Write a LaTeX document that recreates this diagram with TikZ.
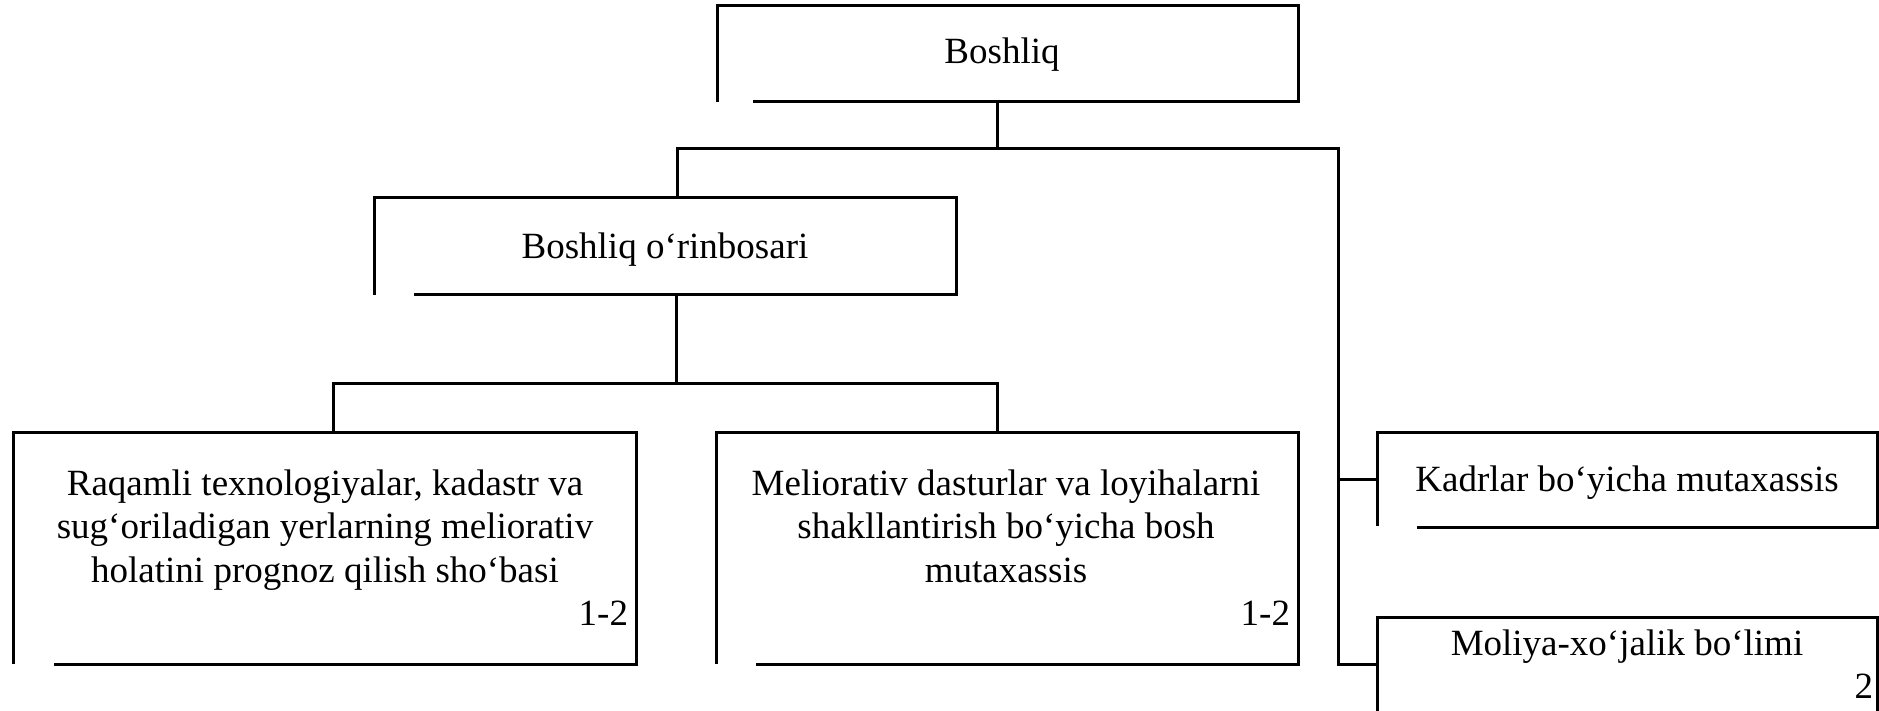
\documentclass[tikz,border=0pt]{standalone}
\usepackage{fontspec}
\setmainfont{Liberation Serif}
\usetikzlibrary{calc}
\tikzset{
  frame/.style={rectangle, inner sep=0pt, outer sep=0pt},
  lbl/.style={inner sep=0pt, outer sep=0pt, font=\fontsize{37}{43.5}\selectfont},
  edge/.style={line width=3pt, black},
}
\begin{document}
\begin{tikzpicture}[x=1pt, y=-1pt]
\useasboundingbox (0,0) rectangle (1879,711);
% boxes (invisible nodes, outlines drawn below)
\node[frame, minimum width=581pt, minimum height=96pt] (b0) at (1007.5,54) {};
\node[frame, minimum width=582pt, minimum height=97pt] (b1) at (665,246.5) {};
\node[frame, minimum width=623pt, minimum height=232pt] (bl) at (324.5,548) {};
\node[frame, minimum width=582pt, minimum height=232pt] (bm) at (1007,548) {};
\node[frame, minimum width=500pt, minimum height=95pt] (k) at (1627,479.5) {};
\node[frame, minimum width=500pt, minimum height=94pt] (mo) at (1627,664) {};
% outlines with the small gap at the bottom left
\draw[edge] ($(b0.south west)+(36,0)$) -- (b0.south east) -- (b0.north east) -- (b0.north west) -- (b0.south west);
\draw[edge] ($(b1.south west)+(40,0)$) -- (b1.south east) -- (b1.north east) -- (b1.north west) -- (b1.south west);
\draw[edge] ($(bl.south west)+(41,0)$) -- (bl.south east) -- (bl.north east) -- (bl.north west) -- (bl.south west);
\draw[edge] ($(bm.south west)+(40,0)$) -- (bm.south east) -- (bm.north east) -- (bm.north west) -- (bm.south west);
\draw[edge] ($(k.south west)+(40,0)$) -- (k.south east) -- (k.north east) -- (k.north west) -- ($(k.south west)+(0,-1)$);
\draw[edge] ($(mo.south west)+(0,20)$) -- (mo.north west) -- (mo.north east) -- ($(mo.south east)+(0,20)$);
% texts
\node[lbl, anchor=base] (t0) at (1002,64) {Boshliq};
\node[lbl, anchor=base] (t1) at (665,259) {Boshliq o‘rinbosari};
\node[lbl, anchor=base] (tl1) at (325,495) {Raqamli texnologiyalar, kadastr va};
\node[lbl, anchor=base] (tl2) at (325,538) {sug‘oriladigan yerlarning meliorativ};
\node[lbl, anchor=base] (tl3) at (325,582) {holatini prognoz qilish sho‘basi};
\node[lbl, anchor=base east] (nl) at (628,625) {1-2};
\node[lbl, anchor=base] (tm1) at (1006,495) {Meliorativ dasturlar va loyihalarni};
\node[lbl, anchor=base] (tm2) at (1006,538) {shakllantirish bo‘yicha bosh};
\node[lbl, anchor=base] (tm3) at (1006,582) {mutaxassis};
\node[lbl, anchor=base east] (nm) at (1290,625) {1-2};
\node[lbl, anchor=base] (tk) at (1627,491) {Kadrlar bo‘yicha mutaxassis};
\node[lbl, anchor=base] (tmo) at (1627,655) {Moliya-xo‘jalik bo‘limi};
\node[lbl, anchor=base east] (nmo) at (1873,698) {2};
% connectors
\coordinate (j1) at (997,149);
\coordinate (j1l) at (677,149);
\coordinate (j1r) at (1338,149);
\coordinate (j2) at (676,383);
\coordinate (j2l) at (333,383);
\coordinate (j2r) at (997,383);
\draw[edge] (j1 |- b0.south) -- (j1);
\draw[edge] (j1l |- b1.north) -- (j1l) -- (j1r) |- (k.west);
\draw[edge] (j1r) |- (mo.west);
\draw[edge] (j2 |- b1.south) -- (j2);
\draw[edge] (j2l |- bl.north) -- (j2l) -- (j2r) -- (j2r |- bm.north);
\end{tikzpicture}
\end{document}
